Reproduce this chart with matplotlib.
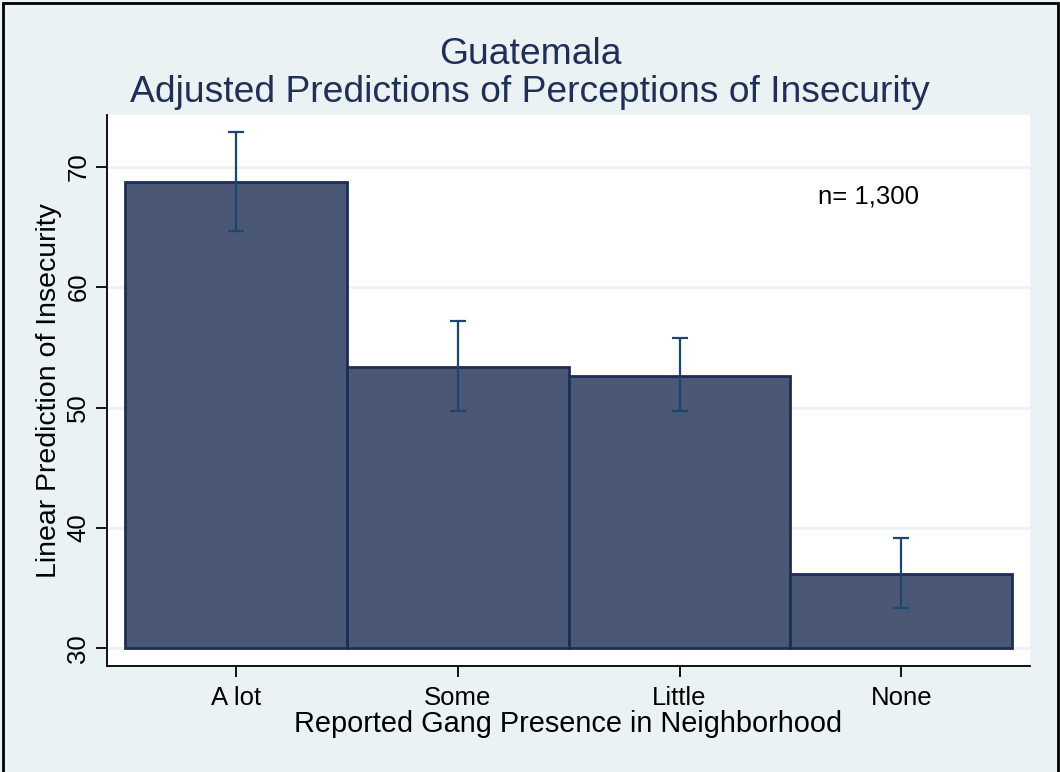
import matplotlib
matplotlib.use("Agg")
import matplotlib.pyplot as plt
from matplotlib.patches import Rectangle

# Adjusted predictions by reported gang presence
categories = ["A lot", "Some", "Little", "None"]
predictions = [68.75, 53.35, 52.65, 36.2]
ci_low = [64.7, 49.75, 49.75, 33.35]
ci_high = [72.85, 57.2, 55.8, 39.15]
y_ticks = [30, 40, 50, 60, 70]
n_label = "n= 1,300"

plt.rcParams["font.family"] = ["Liberation Sans", "DejaVu Sans"]

BG = "#EAF2F3"
BAR_FACE = "#4A5775"
BAR_EDGE = "#1F2C55"
CI_COLOR = "#1A476F"
TITLE_COLOR = "#1F2F57"

fig = plt.figure(figsize=(10.6, 7.72), dpi=100, facecolor=BG)
ax = fig.add_axes([107 / 1060, 1 - 665.7 / 772, (1030 - 107) / 1060, (665.7 - 115) / 772])
ax.set_facecolor("white")

x = list(range(len(categories)))
base = 30
ax.bar(x, [p - base for p in predictions], bottom=base, width=1.0,
       color=BAR_FACE, edgecolor=BAR_EDGE, linewidth=2.0, zorder=2)

yerr = [[p - lo for p, lo in zip(predictions, ci_low)],
        [hi - p for p, hi in zip(predictions, ci_high)]]
ax.errorbar(x, predictions, yerr=yerr, fmt="none", ecolor=CI_COLOR,
            elinewidth=1.6, capsize=5.5, capthick=1.6, zorder=3)

ax.set_xlim(-0.582, 3.58)
ax.set_ylim(28.55, 74.3)
ax.set_yticks(y_ticks)
ax.set_xticks(x)
ax.set_xticklabels(categories)

ax.yaxis.grid(True, color=BG, linewidth=2.0, zorder=0)
ax.set_axisbelow(True)

for side in ("top", "right"):
    ax.spines[side].set_visible(False)
for side in ("left", "bottom"):
    ax.spines[side].set_color("black")
    ax.spines[side].set_linewidth(1.3)

ax.tick_params(axis="both", length=8, width=1.3, labelsize=18.5, colors="black")
ax.tick_params(axis="x", pad=6.5)
ax.tick_params(axis="y", pad=4)
for lbl in ax.get_yticklabels():
    lbl.set_rotation(90)
    lbl.set_va("center")

ax.set_xlabel("Reported Gang Presence in Neighborhood", fontsize=20.8, labelpad=0)
ax.set_ylabel("Linear Prediction of Insecurity", fontsize=20.5, labelpad=3)

ax.text(2.85, 67.5, n_label, fontsize=18.5, ha="center", va="center")

fig.text(0.5, 1 - 54 / 772, "Guatemala", fontsize=26.8, color=TITLE_COLOR,
         ha="center", va="center")
fig.text(0.5, 1 - 92 / 772, "Adjusted Predictions of Perceptions of Insecurity",
         fontsize=26.8, color=TITLE_COLOR, ha="center", va="center")

# outer frame around the graph region
fig.patches.append(Rectangle((3 / 1060, -0.02), (1058 - 3) / 1060, 1.02 - 3 / 772,
                             transform=fig.transFigure, fill=False,
                             edgecolor="black", linewidth=2.0))

fig.savefig("out.png", dpi=100, facecolor=BG)
